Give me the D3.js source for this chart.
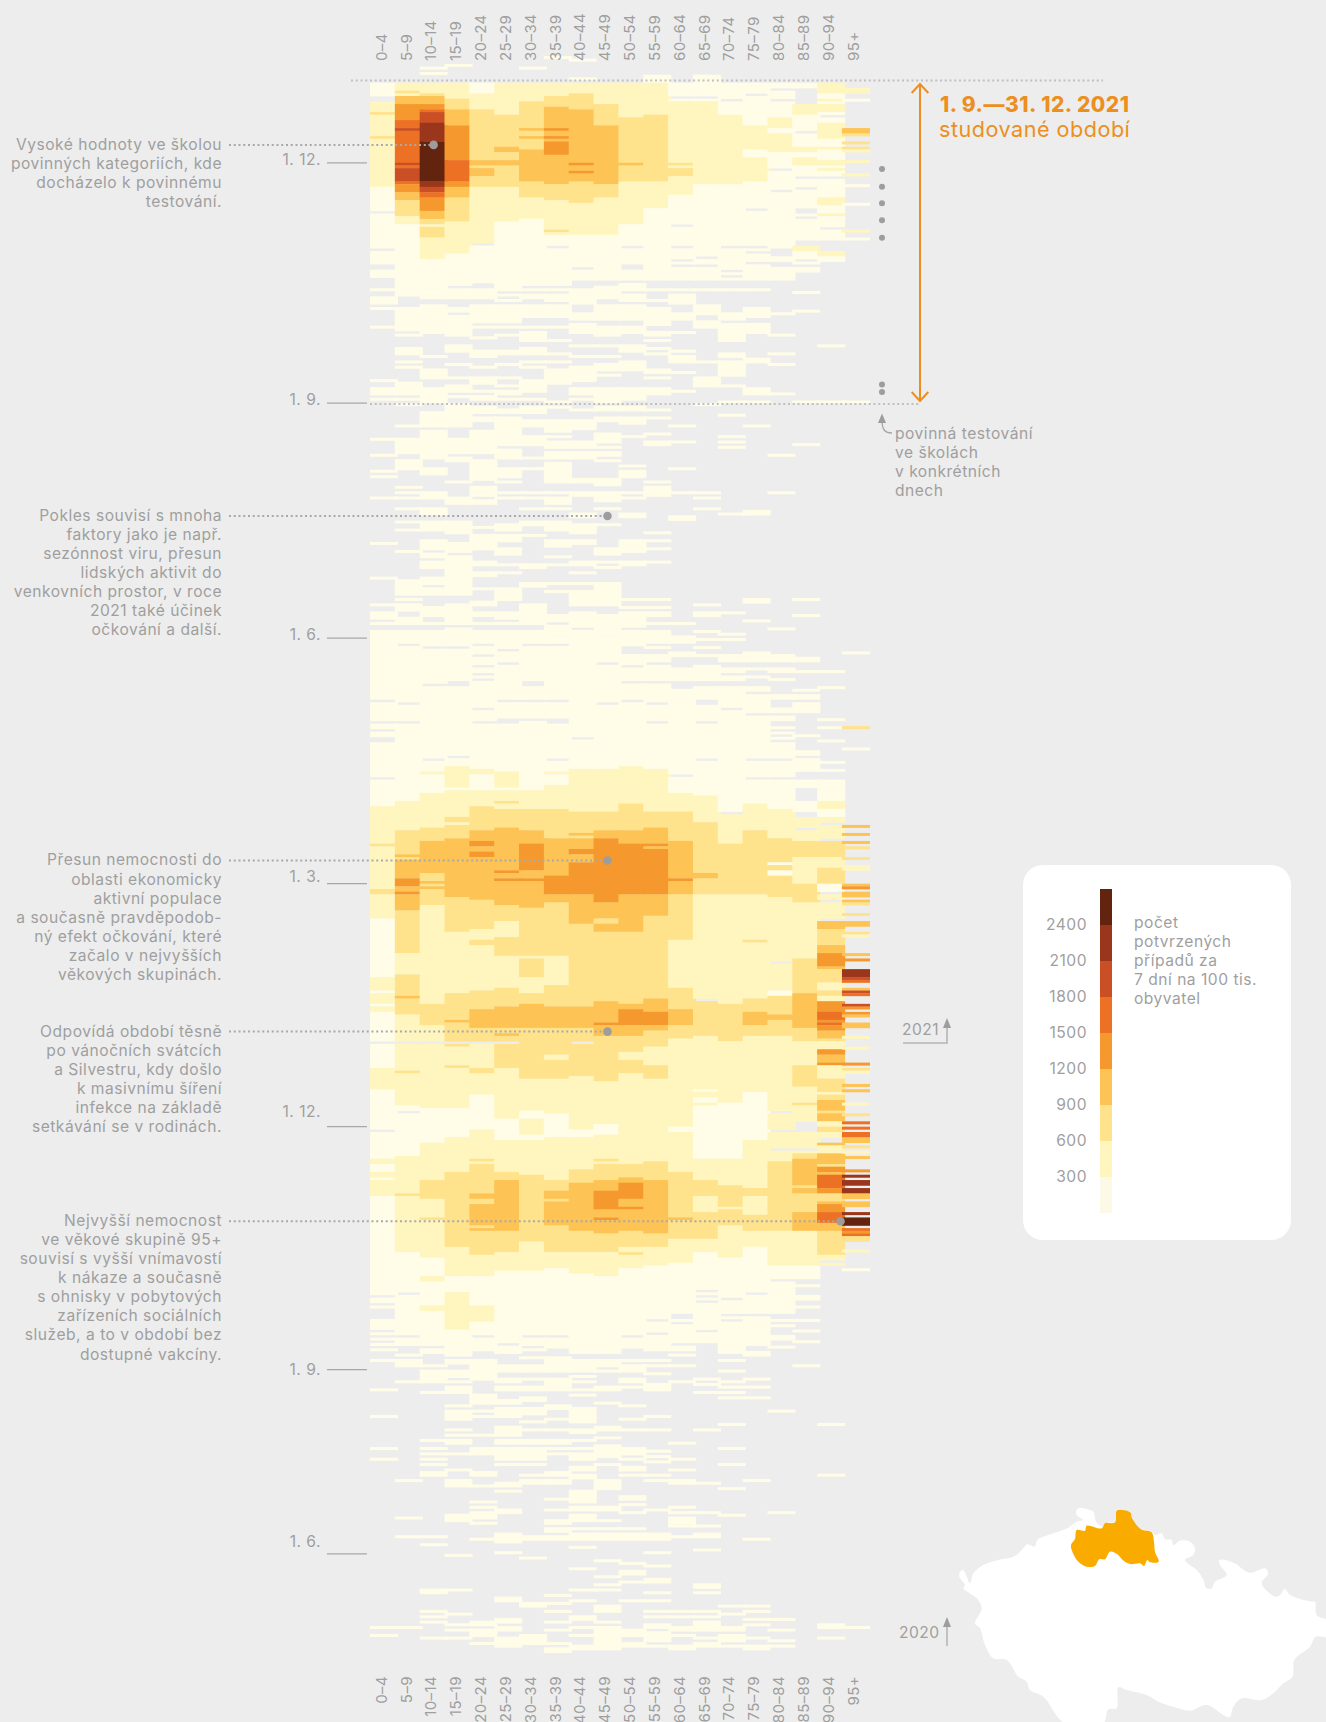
<!DOCTYPE html>
<html>
<head>
<meta charset="utf-8">
<script src="https://cdn.jsdelivr.net/npm/d3@7"></script>
<style>
html, body { margin: 0; background: #ededed; }
svg { display: block; }
text { font-family: Inter, "Noto Sans", sans-serif; fill: #9f9f9f; font-size: 15.6px; letter-spacing: 0.5px; }
</style>
</head>
<body>
<script>
const ages = ["0–4","5–9","10–14","15–19","20–24","25–29","30–34","35–39","40–44","45–49","50–54","55–59","60–64","65–69","70–74","75–79","80–84","85–89","90–94","95+"];
const legendTicks = [300, 600, 900, 1200, 1500, 1800, 2100, 2400];
const binColors = ["#fffce8","#fff6bf","#ffe28c","#fdc354","#f5992f","#ec7124","#cb4f24","#99361c","#62240f"];

// one array per age group, runs of [first row, last row, bin], row 0 is the newest day on top
const age0 = [[7,11,1],[14,17,2],[18,18,3],[19,26,2],[27,27,3],[28,45,2],[46,54,1],[56,68,1],[70,74,1],[77,79,1],
[84,84,1],[87,89,1],[91,91,1],[98,98,1],[118,118,1],[121,123,1],[125,125,1],[140,140,1],[146,146,1],[152,152,1],[154,154,1],[162,162,1],
[179,179,1],[192,192,1],[202,202,1],[205,207,1],[209,209,1],[212,217,1],[218,237,1],[239,245,1],[247,248,1],[250,251,1],[254,266,1],[268,277,1],
[278,291,2],[292,292,3],[293,308,2],[309,310,3],[311,319,2],[320,341,1],[342,346,2],[347,347,1],[348,351,2],[352,352,1],[353,354,2],[355,365,1],[367,375,1],
[376,383,2],[384,398,1],[400,409,1],[410,411,2],[412,414,1],[415,416,2],[417,417,1],[418,423,2],[424,460,1],[462,463,1],[465,465,1],[470,473,1],[475,475,1],[477,477,1],
[479,479,1],[481,481,1],[485,485,1],[496,496,1],[506,506,1],[518,518,1],[522,522,1],[585,585,1],[588,588,1]];
const age5 = [[7,9,2],[10,10,3],[11,11,2],[12,14,4],[15,20,5],[21,23,6],[24,24,7],[25,36,6],[37,37,7],[38,38,6],[39,43,7],[44,44,6],[45,47,5],[48,50,4],[51,56,3],[57,59,2],[60,82,1],
[83,86,1],[91,96,1],[97,99,1],[101,101,1],[106,108,1],[111,111,1],[113,113,1],[119,123,1],[125,125,1],[127,127,1],[135,135,1],[140,145,1],[148,151,1],[158,158,1],[160,160,1],[162,162,1],[166,166,1],
[171,171,1],[174,174,1],[182,182,1],[193,198,1],[200,200,1],[202,204,1],[207,209,1],[212,216,1],[218,238,1],[240,245,1],[247,275,1],
[276,286,2],[287,295,3],[296,296,4],[297,297,3],[298,304,4],[305,307,5],[308,309,4],[310,310,5],[311,316,4],[317,332,3],[333,340,2],[341,348,3],[349,349,4],[350,355,3],[356,365,2],[367,376,2],
[377,377,3],[378,389,2],[390,391,1],[393,408,1],[409,422,2],[423,423,3],[424,444,2],[445,459,1],[461,475,1],[477,479,1],
[483,483,1],[485,487,1],[493,493,1],[530,530,1],[544,544,1],[551,551,1],[585,585,1]];
const age10 = [[1,1,1],[3,3,1],[7,10,2],[11,11,3],[12,14,4],[15,16,5],[17,17,6],[18,21,7],[22,28,8],[29,43,9],[44,45,8],[46,47,7],[48,49,6],[50,54,5],[55,57,4],[58,59,3],[60,60,2],[61,64,3],[65,72,2],[73,83,1],
[84,87,1],[90,96,1],[97,100,1],[109,109,1],[114,117,1],[121,126,1],[130,135,1],[137,147,1],[151,153,1],[160,162,1],[166,168,1],
[171,174,1],[178,181,1],[183,184,1],[186,188,1],[192,194,1],[196,198,1],[203,206,1],[209,209,1],[212,217,1],[219,231,1],[233,259,1],[261,264,1],[265,265,2],[266,272,1],
[273,285,2],[286,290,3],[291,302,4],[303,305,3],[306,306,4],[307,307,3],[308,308,4],[309,314,3],[315,351,2],[352,359,3],[360,365,2],[367,390,2],
[391,403,1],[404,417,2],[418,424,3],[425,431,2],[432,432,3],[433,446,2],[447,453,1],[454,455,2],[456,464,1],[465,466,2],[467,479,1],
[481,482,1],[487,487,1],[489,493,1],[497,497,1],[515,515,1],[518,518,1],[520,520,1],[522,522,1],[524,524,1],[527,528,1],[551,551,1],[554,554,1],[571,572,1],[579,579,1],[581,581,1],[583,583,1],[589,589,1]];
const age15 = [[0,0,1],[7,12,2],[13,16,3],[17,22,4],[23,35,5],[36,43,6],[44,45,5],[46,49,4],[50,58,3],[59,70,2],[71,82,1],
[84,87,1],[91,92,1],[94,101,1],[105,107,1],[112,112,1],[117,117,1],[120,122,1],[124,124,1],[127,135,1],[140,145,1],[147,148,1],[156,156,1],[162,164,1],
[171,175,1],[179,182,1],[184,198,1],[202,209,1],[211,217,1],[219,230,1],[233,258,1],[260,262,1],[263,270,2],[271,271,1],
[272,281,2],[282,283,3],[284,284,2],[285,289,3],[290,311,4],[312,324,3],[325,347,2],[348,357,3],[358,358,4],[359,365,3],[367,367,3],[368,374,2],
[375,375,3],[376,390,2],[391,401,1],[402,414,2],[415,442,3],[443,453,2],[454,459,1],[460,473,2],[474,482,1],
[483,483,1],[485,486,1],[489,491,1],[493,493,1],[495,497,1],[502,502,1],[504,507,1],[511,511,1],[513,513,1],[515,516,1],[520,520,1],[526,526,1],[530,532,1],[543,545,1],[558,558,1],[571,571,1],[580,580,1],[584,584,1],[586,586,1],[589,589,1]];
const age20 = [[7,10,1],[11,16,2],[17,35,3],[36,37,4],[38,38,3],[39,41,4],[42,45,3],[46,66,2],[68,81,1],
[84,87,1],[90,96,1],[98,98,1],[102,102,1],[107,109,1],[113,113,1],[117,119,1],[122,122,1],[124,125,1],[128,130,1],[132,133,1],[137,145,1],[148,155,1],[158,159,1],[160,161,1],[163,164,1],
[173,173,1],[176,181,1],[186,187,1],[190,191,1],[196,196,1],[201,202,1],[205,206,1],[209,209,1],[212,216,1],[218,220,1],[222,224,1],[226,227,1],[229,229,1],[231,240,1],[242,245,1],[247,263,1],[264,265,2],[266,271,1],
[272,277,2],[278,286,3],[287,290,4],[291,292,5],[293,294,4],[295,296,5],[297,312,4],[313,323,3],[324,327,2],[328,329,3],[330,346,2],[347,353,3],[354,360,4],[361,365,3],[367,375,2],
[376,377,3],[378,385,2],[386,398,1],[399,409,2],[410,410,3],[411,411,2],[412,422,3],[423,424,4],[425,426,3],[427,434,4],[435,435,3],[436,436,4],[437,445,3],[446,453,2],[454,464,1],[465,470,2],[471,475,1],[477,481,1],
[485,492,1],[498,501,1],[504,504,1],[506,506,1],[513,513,1],[518,520,1],[527,528,1],[532,532,1],[538,538,1],[540,540,1],[542,544,1],[546,546,1],[552,552,1],[583,584,1],[586,588,1],[591,591,1]];
const age25 = [[7,18,2],[19,30,3],[31,32,4],[33,35,3],[36,37,4],[38,45,3],[46,58,2],[59,84,1],
[86,86,1],[88,88,1],[90,96,1],[98,98,1],[101,101,1],[107,108,1],[112,112,1],[117,117,1],[120,120,1],[122,123,1],[125,125,1],[129,130,1],[132,142,1],[144,147,1],[151,154,1],[156,156,1],[160,160,1],[162,162,1],
[172,174,1],[176,178,1],[181,183,1],[187,187,1],[190,190,1],[196,200,1],[205,207,1],[209,209,1],[212,218,1],[220,223,1],[225,237,1],[239,244,1],[247,264,1],[265,270,2],[271,271,1],
[272,275,2],[276,276,3],[277,278,2],[279,285,3],[286,301,4],[302,302,5],[303,304,4],[305,305,5],[306,314,4],[315,320,3],[321,326,2],[327,333,3],[334,345,2],[346,352,3],[353,360,4],[361,362,3],[363,363,4],[364,365,3],[367,374,3],
[375,375,3],[376,394,2],[395,402,1],[403,414,2],[415,417,3],[418,436,4],[437,444,3],[445,451,2],[452,478,1],
[480,482,1],[487,489,1],[492,493,1],[495,496,1],[500,501,1],[503,506,1],[510,513,1],[515,516,1],[518,522,1],[524,524,1],[531,532,1],[534,534,1],[541,542,1],[550,553,1],[557,557,1],[574,575,1],[582,583,1],[585,586,1],[589,592,1]];
const age30 = [[1,1,1],[7,13,2],[14,23,3],[24,24,4],[25,26,3],[27,27,4],[28,31,3],[32,43,4],[44,49,3],[50,57,2],[58,82,1],
[84,84,1],[86,87,1],[90,94,1],[98,98,1],[100,103,1],[106,108,1],[111,111,1],[113,113,1],[118,122,1],[125,125,1],[128,130,1],[133,135,1],[139,142,1],[147,147,1],[151,151,1],[160,160,1],[162,162,1],[166,166,1],
[171,172,1],[176,176,1],[187,188,1],[194,195,1],[202,209,1],[212,216,1],[218,230,1],[233,237,1],[239,244,1],[246,271,1],
[272,278,2],[279,286,3],[287,291,4],[292,301,5],[302,304,4],[305,305,5],[306,315,4],[316,333,3],[334,334,2],[335,341,3],[342,347,2],[348,351,3],[352,360,4],[361,372,3],
[373,379,3],[380,391,2],[392,394,1],[395,400,2],[401,402,1],[403,415,2],[416,440,3],[441,451,2],[452,475,1],[477,479,1],
[481,481,1],[484,484,1],[487,489,1],[492,492,1],[495,496,1],[499,500,1],[503,505,1],[508,508,1],[511,511,1],[515,516,1],[518,522,1],[524,524,1],[528,528,1],[530,531,1],[551,552,1],[559,559,1],[576,577,1],[588,591,1]];
const age35 = [[-3,-3,1],[7,11,2],[12,15,3],[16,23,4],[24,24,5],[25,26,4],[27,27,5],[28,28,4],[29,33,5],[34,44,4],[45,50,3],[51,61,2],[62,62,3],[63,63,2],[64,67,1],[69,82,1],
[84,84,1],[86,88,1],[90,94,1],[98,98,1],[103,103,1],[108,108,1],[111,111,1],[114,119,1],[126,126,1],[128,128,1],[133,137,1],[139,139,1],[141,143,1],[145,147,1],[149,156,1],[160,160,1],[162,164,1],[166,166,1],
[171,174,1],[178,180,1],[184,184,1],[187,187,1],[194,194,1],[197,197,1],[206,208,1],[210,213,1],[214,216,1],[218,237,1],[239,244,1],[247,259,1],[261,264,1],[265,265,2],[266,269,1],[270,278,2],
[279,289,3],[290,303,4],[304,310,5],[311,313,4],[314,333,3],[334,344,2],[345,352,3],[353,360,4],[361,370,3],[371,372,2],
[373,379,3],[380,392,2],[393,401,1],[402,417,2],[418,421,3],[422,424,4],[425,425,3],[426,434,4],[435,444,3],[445,450,2],[451,475,1],[477,480,1],
[484,489,1],[492,495,1],[496,496,1],[502,503,1],[507,507,1],[511,511,1],[515,516,1],[518,518,1],[520,520,1],[527,528,1],[530,531,1],[537,537,1],[541,541,1],[545,546,1],[548,549,1],[551,552,1],[573,573,1],[576,576,1],[579,579,1],[583,583,1],[586,586,1],[591,591,1],[593,594,1]];
const age40 = [[-2,-2,1],[5,5,1],[7,10,2],[11,16,3],[17,36,4],[37,37,5],[38,39,4],[40,40,5],[41,43,4],[44,51,3],[52,63,2],[64,75,1],[77,80,1],
[84,89,1],[93,95,1],[97,100,1],[105,105,1],[109,109,1],[113,117,1],[118,118,1],[121,123,1],[125,125,1],[129,129,1],[133,136,1],[141,143,1],[145,147,1],[155,156,1],[160,161,1],[168,169,1],
[172,175,1],[178,179,1],[186,187,1],[190,190,1],[194,194,1],[197,202,1],[205,208,1],[209,210,1],[212,251,1],[253,263,1],[264,271,2],
[272,279,2],[280,287,3],[288,288,4],[289,289,3],[290,293,4],[294,295,5],[296,298,4],[299,310,5],[311,321,4],[322,352,3],[353,360,4],[361,365,3],[367,372,3],
[373,378,3],[379,398,2],[399,401,1],[402,413,2],[414,418,3],[419,436,4],[437,444,3],[445,452,2],[453,482,1],
[485,489,1],[491,491,1],[493,493,1],[496,496,1],[498,498,1],[503,508,1],[511,512,1],[515,515,1],[518,518,1],[520,522,1],[525,526,1],[528,529,1],[534,538,1],[540,541,1],[543,545,1],[548,548,1],[550,552,1],[555,555,1],[563,563,1],[571,571,1],[575,575,1],[581,582,1],[585,585,1],[588,588,1],[592,593,1]];
const age45 = [[7,14,2],[15,22,3],[23,44,4],[45,49,3],[50,63,2],[64,80,1],
[83,87,1],[90,92,1],[93,95,1],[98,100,1],[101,101,1],[105,105,1],[109,109,1],[112,114,1],[116,116,1],[121,126,1],[128,129,1],[132,133,1],[138,141,1],[143,143,1],[145,146,1],[148,148,1],[155,157,1],[160,163,1],[166,166,1],
[172,172,1],[181,183,1],[186,186,1],[188,188,1],[194,196,1],[197,202,1],[206,208,1],[209,213,1],[214,223,1],[225,238,1],[240,263,1],[264,271,2],
[272,279,2],[280,286,3],[287,289,4],[290,313,5],[314,319,4],[320,321,3],[322,324,4],[325,350,3],[351,358,4],[359,359,5],[360,363,4],[364,372,3],
[373,380,3],[381,396,2],[397,400,1],[401,409,2],[410,410,3],[411,411,2],[412,417,3],[418,421,4],[422,428,5],[429,431,4],[432,432,5],[433,437,4],[438,444,3],[445,453,2],[454,482,1],
[485,487,1],[489,489,1],[495,496,1],[501,501,1],[510,511,1],[514,514,1],[517,521,1],[524,524,1],[530,533,1],[540,541,1],[545,545,1],[548,548,1],[550,552,1],[560,560,1],[566,566,1],[569,569,1],[571,571,1],[577,579,1],[583,583,1],[585,593,1]];
const age50 = [[7,19,2],[20,36,3],[37,37,4],[38,43,3],[44,59,2],[60,67,1],[69,74,1],[77,80,1],
[82,84,1],[86,88,1],[90,95,1],[98,100,1],[105,107,1],[111,114,1],[121,125,1],[128,129,1],[132,134,1],[139,139,1],[150,150,1],[152,154,1],[160,160,1],[162,162,1],[168,169,1],
[178,180,1],[181,182,1],[186,187,1],[200,200,1],[203,203,1],[205,210,1],[212,217,1],[221,224,1],[226,230,1],[232,237,1],[239,262,1],[263,271,2],
[272,276,2],[277,286,3],[287,291,4],[292,310,5],[311,324,4],[325,351,3],[352,353,4],[354,359,5],[360,363,4],[364,369,3],[370,372,2],
[373,377,3],[378,411,2],[412,416,3],[417,418,4],[419,424,5],[425,427,4],[428,428,5],[429,436,4],[437,442,3],[443,444,2],[445,445,3],[446,450,2],[451,475,1],[477,480,1],
[485,485,1],[487,489,1],[492,493,1],[495,495,1],[502,502,1],[507,507,1],[511,511,1],[518,520,1],[522,522,1],[525,526,1],[528,528,1],[536,537,1],[539,539,1],[542,542,1],[548,548,1],[550,552,1],[561,561,1],[564,565,1],[568,568,1],[575,575,1],[586,588,1],[591,592,1]];
const age55 = [[4,6,1],[7,18,2],[19,43,3],[44,53,2],[54,80,1],
[84,84,1],[88,88,1],[91,97,1],[100,101,1],[103,103,1],[106,106,1],[108,108,1],[114,115,1],[117,117,1],[121,123,1],[129,129,1],[132,132,1],[138,138,1],[141,142,1],[156,156,1],[158,161,1],
[175,175,1],[178,178,1],[181,181,1],[186,186,1],[200,200,1],[203,203,1],[205,206,1],[209,209,1],[212,216,1],[218,218,1],[221,223,1],[225,230,1],[232,238,1],[240,245,1],[247,263,1],[264,272,2],
[273,279,2],[280,285,3],[286,291,4],[292,292,5],[293,293,4],[294,310,5],[311,318,4],[319,349,3],[350,354,4],[355,359,5],[360,361,4],[362,367,3],[368,374,2],
[375,379,3],[380,410,2],[411,417,3],[418,437,4],[438,442,3],[443,449,2],[450,469,1],[471,474,1],[476,481,1],
[485,485,1],[487,487,1],[490,490,1],[494,496,1],[506,506,1],[511,511,1],[519,519,1],[521,521,1],[523,523,1],[528,528,1],[530,530,1],[541,541,1],[550,552,1],[557,557,1],[562,562,1],[567,568,1],[572,572,1],[575,575,1],[579,579,1],[581,581,1],[584,585,1],[587,590,1],[592,592,1]];
const age60 = [[7,11,1],[13,13,1],[14,36,2],[37,37,3],[38,38,2],[39,41,3],[42,48,2],[49,59,1],[61,67,1],[69,72,1],[74,74,1],[76,80,1],
[84,84,1],[86,89,1],[93,95,1],[100,100,1],[107,107,1],[109,111,1],[115,115,1],[122,122,1],[135,135,1],[141,141,1],[151,151,1],[160,160,1],[169,169,1],[170,170,1],
[209,209,1],[214,216,1],[220,221,1],[226,230,1],[234,265,1],[267,272,1],
[273,279,2],[280,290,3],[291,304,4],[305,305,5],[306,310,4],[311,327,3],[328,345,2],[346,353,3],[354,359,4],[360,364,3],[365,372,2],
[373,397,2],[398,399,1],[400,414,2],[415,431,3],[432,432,4],[433,439,3],[440,448,2],[449,467,1],[470,470,1],[472,478,1],
[480,481,1],[483,483,1],[487,487,1],[493,493,1],[516,516,1],[522,522,1],[526,526,1],[530,531,1],[540,540,1],[542,542,1],[544,546,1],[547,547,1],[551,551,1],[579,579,1],[581,581,1],[585,586,1],[588,588,1],[592,593,1]];
const age65 = [[4,6,1],[7,11,1],[13,13,1],[14,44,2],[45,71,1],[73,74,1],[76,80,1],
[84,84,1],[90,93,1],[96,98,1],[111,111,1],[117,120,1],[127,127,1],[160,160,1],[162,162,1],[166,166,1],
[202,202,1],[205,206,1],[212,212,1],[215,215,1],[218,218,1],[221,221,1],[225,230,1],[233,237,1],[240,245,1],[247,259,1],[261,272,1],
[273,273,1],[274,283,2],[284,302,3],[303,304,4],[305,310,3],[311,349,2],[351,363,3],[364,383,2],
[384,384,1],[385,386,2],[387,388,1],[389,389,2],[390,409,1],[410,417,2],[418,423,3],[424,429,2],[430,439,3],[440,444,2],[445,458,1],[460,460,1],[462,462,1],[464,473,1],[475,478,1],
[492,492,1],[494,494,1],[497,497,1],[511,511,1],[531,531,1],[542,542,1],[547,547,1],[550,551,1],[556,556,1],[569,570,1],[572,572,1],[579,579,1],[581,581,1],[583,586,1],[589,589,1],[591,592,1]];
const age70 = [[7,12,1],[14,18,1],[19,44,2],[45,67,1],[69,76,1],[78,78,1],[80,80,1],
[84,84,1],[93,95,1],[97,103,1],[108,109,1],[111,116,1],[120,120,1],[126,126,1],[131,131,1],[139,139,1],[141,141,1],[143,143,1],[168,168,1],
[205,205,1],[213,213,1],[215,215,1],[221,223,1],[226,227,1],[229,230,1],[233,240,1],[242,279,1],[281,291,2],[292,310,3],[311,351,2],[352,365,3],[366,388,2],
[389,409,1],[410,419,2],[420,427,3],[428,428,2],[429,434,3],[435,446,2],[447,461,1],[463,467,1],[469,469,1],[471,482,1],
[485,485,1],[489,489,1],[493,493,1],[495,495,1],[497,497,1],[499,499,1],[509,509,1],[518,518,1],[524,524,1],[533,533,1],[543,543,1],[577,577,1],[580,580,1],[585,586,1],[588,590,1],[592,592,1]];
const age75 = [[7,10,1],[12,22,1],[23,31,2],[32,34,1],[35,43,2],[44,53,1],[55,67,1],[69,69,1],[71,73,1],[75,80,1],
[84,84,1],[91,94,1],[97,100,1],[110,111,1],[121,123,1],[126,126,1],[135,135,1],
[167,168,1],[200,201,1],[208,208,1],[220,223,1],[226,226,1],[229,229,1],[233,234,1],[236,242,1],[244,259,1],[261,266,1],[268,272,1],
[273,276,1],[277,286,2],[287,310,3],[311,327,2],[328,328,3],[329,349,2],[350,354,3],[355,359,4],[360,363,3],[364,384,2],
[385,402,1],[403,420,2],[421,423,3],[424,430,2],[431,436,3],[437,442,2],[443,459,1],[461,467,1],[469,479,1],
[482,483,1],[492,492,1],[495,495,1],[499,499,1],[530,530,1],[552,552,1],[577,577,1],[579,579,1],[582,582,1],[584,584,1],[589,589,1],[592,593,1]];
const age80 = [[7,8,1],[10,12,1],[14,19,1],[20,23,2],[24,25,1],[26,32,2],[33,38,1],[40,46,1],[48,68,1],[72,73,1],[76,80,1],
[93,93,1],[101,101,1],[108,108,1],[112,112,1],[123,123,1],[146,146,1],[160,160,1],
[211,211,1],[221,223,1],[226,227,1],[230,230,1],[236,237,1],[241,242,1],[244,245,1],[248,248,1],[250,250,1],[252,252,1],[254,259,1],[261,266,1],[268,272,1],
[273,278,1],[279,289,2],[290,298,3],[299,299,1],[300,301,3],[302,303,1],[304,311,3],[312,335,2],[337,346,2],[347,348,1],[349,355,3],[356,357,4],[358,363,3],[364,391,2],
[393,398,2],[400,405,2],[407,410,2],[411,436,3],[437,449,2],[450,454,1],[456,467,1],[470,470,1],[472,472,1],[476,477,1],[480,480,1],[504,504,1],[542,542,1],[582,582,1],[586,586,1],[590,590,1],[592,592,1]];
const age85 = [[7,8,1],[15,18,2],[19,24,1],[26,30,1],[31,32,2],[33,34,1],[35,37,2],[38,41,1],[43,45,1],[47,53,1],[56,56,1],[58,65,1],[68,69,2],[70,72,1],[74,74,1],[76,77,1],
[85,85,1],[92,92,1],[126,126,1],[142,142,1],
[200,200,1],[206,206,1],[222,223,1],[227,227,1],[234,234,1],[236,237,1],[239,241,1],[242,242,1],[251,251,1],[257,258,1],[260,264,1],[268,270,1],
[276,279,1],[282,285,2],[287,290,2],[291,296,3],[297,306,2],[307,313,3],[314,334,2],[335,347,3],[348,360,4],[361,365,3],[366,373,2],
[374,374,2],[375,382,3],[383,388,2],[389,389,3],[390,395,2],[400,405,2],[407,407,2],[408,409,3],[410,419,4],[420,420,3],[421,422,4],[423,429,3],[430,436,4],[437,449,2],[450,454,1],[457,457,1],[461,462,1],[465,465,1],[470,470,1],[474,474,1],[478,478,1],[487,487,1]];
const age90 = [[7,10,2],[11,12,1],[13,13,2],[14,14,1],[15,17,2],[18,18,1],[20,21,1],[22,27,2],[28,30,1],[31,31,2],[32,35,1],[36,37,2],[38,38,1],[39,39,2],[40,41,1],[43,45,1],[46,49,1],[50,52,2],[53,55,1],[56,56,2],[57,58,1],[59,60,1],[62,65,1],[70,71,2],[72,73,1],
[105,105,1],[126,126,1],[227,227,1],[233,233,1],[245,245,1],[248,248,1],[253,253,1],[261,261,1],[264,264,1],[268,271,1],
[272,275,1],[276,278,2],[279,281,1],[282,283,2],[285,289,2],[291,296,3],[297,300,2],[301,306,3],[307,309,1],[311,312,2],[314,319,2],[321,323,4],[324,329,3],[330,332,4],[333,337,5],[338,338,4],[339,343,3],[344,346,2],[347,348,3],[349,350,2],[351,354,5],[355,357,6],[358,358,5],[359,359,6],[360,361,5],[362,364,4],[365,365,3],[366,368,2],[369,370,5],[371,373,4],
[374,374,5],[375,379,2],[380,384,3],[385,385,2],[386,387,3],[388,391,4],[392,392,3],[393,395,4],[396,397,2],[398,399,3],[400,401,2],[404,404,4],[405,407,2],[408,411,4],[412,412,3],[413,414,5],[415,415,4],[416,420,6],[421,422,5],[423,425,3],[426,426,4],[427,429,5],[430,433,6],[434,436,4],[437,445,3],[446,447,2],[449,449,2],
[509,509,1],[528,528,1],[584,585,1],[589,589,1]];
const age95 = [[9,10,2],[13,13,1],[24,25,4],[26,26,3],[29,29,3],[31,31,3],[32,32,2],[36,36,2],[41,41,2],[45,45,1],[52,52,1],[62,62,2],[65,65,1],
[126,126,1],[220,220,1],[248,248,3],[256,256,1],
[285,285,4],[288,288,4],[291,291,4],[293,293,3],[297,297,3],[300,301,2],[307,307,4],[308,308,5],[310,311,4],[313,313,4],[314,314,3],[318,318,3],[321,322,4],[325,325,3],[326,326,2],[333,333,4],[335,335,5],[339,341,8],[342,342,7],[343,343,6],[346,346,4],[347,347,7],[348,348,6],[352,352,7],[353,353,5],[355,355,5],[356,356,4],[359,360,4],[364,364,2],[368,368,2],
[374,374,5],[376,376,3],[377,377,2],[382,382,4],[384,384,4],[389,389,2],[393,393,3],[396,396,6],[398,398,6],[400,401,6],[402,403,4],[405,405,3],[407,407,2],[409,409,4],[414,414,5],[416,416,8],[418,419,8],[421,422,8],[423,424,4],[426,427,4],[430,430,8],[432,434,9],[436,436,6],[437,437,5],[438,438,6],[439,440,3],[444,444,2],[451,451,1],[585,585,1]];
const ageColumns = [age0,age5,age10,age15,age20,age25,age30,age35,age40,age45,age50,age55,age60,age65,age70,age75,age80,age85,age90,age95];

const tickRows = [37, 127, 215, 307, 398, 489, 558];
const tickLabelRows = [35.6, 125.8, 213.5, 304.5, 392.5, 488.8, 553.2];
const tickLabels = ["1. 12.", "1. 9.", "1. 6.", "1. 3.", "1. 12.", "1. 9.", "1. 6."];
const testingRows = [39.3, 46, 52.2, 58.5, 65.1, 120, 122.8];

const notes = [
    {row: 30.3, col: 2, end: 0.5, lines: ["Vysoké hodnoty ve školou","povinných kategoriích, kde","docházelo k povinnému","testování."]},
    {row: 169.3, col: 9, end: 0.5, lines: ["Pokles souvisí s mnoha","faktory jako je např.","sezónnost viru, přesun","lidských aktivit do","venkovních prostor, v roce","2021 také účinek","očkování a další."]},
    {row: 298.3, col: 9, end: 0.5, lines: ["Přesun nemocnosti do","oblasti ekonomicky","aktivní populace","a současně pravděpodob-","ný efekt očkování, které","začalo v nejvyšších","věkových skupinách."]},
    {row: 362.4, col: 9, end: 0.5, lines: ["Odpovídá období těsně","po vánočních svátcích","a Silvestru, kdy došlo","k masivnímu šíření","infekce na základě","setkávání se v rodinách."]},
    {row: 433.4, col: 19, end: -0.06, lines: ["Nejvyšší nemocnost","ve věkové skupině 95+","souvisí s vyšší vnímavostí","k nákaze a současně","s ohnisky v pobytových","zařízeních sociálních","služeb, a to v období bez","dostupné vakcíny."]}
];
const legendNote = ["počet","potvrzených","případů za","7 dní na 100 tis.","obyvatel"];
const testingNote = ["povinná testování","ve školách","v konkrétních","dnech"];

// outline, in 3x crop units
const mapOutline = [[60,275],[70,270],[90,310],[100,280],[130,255],[175,240],[225,228],[250,205],[262,193],[284,200],[292,180],[340,160],[385,143],[410,125],[430,120],[410,105],[412,86],[460,95],[465,115],[472,130],[490,140],[500,128],[525,125],[530,90],[570,97],[575,110],[600,145],[635,155],[645,165],[665,160],[675,178],[695,180],[700,195],[720,182],[750,185],[765,205],[760,225],[735,240],[775,275],[790,300],[800,325],[815,325],[825,305],[860,285],[840,255],[838,240],[880,248],[930,278],[975,265],[985,280],[965,310],[1005,350],[1020,345],[1035,327],[1050,345],[1115,365],[1125,365],[1130,405],[1165,423],[1165,470],[1127,470],[1110,500],[1063,540],[1058,590],[1030,610],[1000,640],[965,660],[905,655],[880,680],[868,712],[800,675],[750,692],[700,680],[655,665],[620,645],[560,630],[535,622],[530,685],[505,688],[490,730],[375,730],[310,650],[270,630],[260,605],[235,590],[200,540],[160,535],[135,495],[120,445],[105,430],[125,385],[110,355],[70,325],[75,315],[58,290]];
const regionOutline = [[410,150],[435,152],[440,137],[485,145],[495,130],[525,127],[530,92],[548,90],[572,98],[575,112],[602,147],[635,157],[642,185],[645,215],[656,245],[630,247],[622,240],[612,258],[600,250],[570,252],[548,240],[535,225],[510,215],[495,238],[478,238],[465,258],[440,260],[415,245],[400,222],[393,195],[405,177]];

const width = 1326, height = 1722;
const svg = d3.select("body").append("svg").attr("width", width).attr("height", height);

const x = d3.scaleBand().domain(ages).range([370, 866.8]);
const y = d3.scaleLinear().domain([0, 595]).range([64, 64 + 595 * 2.67]);
const color = d3.scaleOrdinal().domain(d3.range(1, 10)).range(binColors);
const barWidth = x.bandwidth() + 3.2;

// map goes under everything
const mapG = svg.append("g").attr("transform", "translate(940,1480) scale(0.3333)");
const outline = d3.line().curve(d3.curveCatmullRomClosed.alpha(0.5));
mapG.append("path").attr("d", outline(mapOutline)).attr("fill", "#fff");
mapG.append("path").attr("d", outline(regionOutline)).attr("fill", "#faab00");

//heatmap columns, left to right so the next column covers the overlap
const heat = svg.append("g").attr("class", "heat");
ageColumns.forEach((runs, i) => {
    heat.append("g").selectAll("rect")
        .data(runs)
        .join("rect")
        .attr("x", x(ages[i]))
        .attr("y", d => y(d[0]))
        .attr("width", barWidth)
        .attr("height", d => y(d[1] + 1) - y(d[0]) + 0.33)
        .attr("fill", d => color(d[2]));
});

// age labels, top and bottom
const topAxis = svg.append("g").attr("transform", "translate(-1,61)").call(d3.axisTop(x).tickSize(0).tickPadding(0));
const bottomAxis = svg.append("g").attr("transform", "translate(-1,1676)").call(d3.axisTop(x).tickSize(0).tickPadding(0));
[topAxis, bottomAxis].forEach(a => a.select(".domain").remove());
topAxis.selectAll("text").attr("transform", "rotate(-90)").attr("text-anchor", "start").attr("x", 0).attr("y", 0).attr("dy", "0.35em").attr("font-size", null);
bottomAxis.selectAll("text").attr("transform", "rotate(-90)").attr("text-anchor", "end").attr("x", 0).attr("y", 0).attr("dy", "0.35em").attr("font-size", null);
svg.selectAll(".tick text").style("font-size", "15px").style("letter-spacing", "0.4px");

// date ticks on the left
svg.append("g").selectAll("line").data(tickRows).join("line")
    .attr("x1", 327).attr("x2", 367)
    .attr("y1", d => y(d)).attr("y2", d => y(d))
    .attr("stroke", "#a8a8a8").attr("stroke-width", 1.2);
svg.append("g").selectAll("text").data(tickLabels).join("text")
    .attr("x", 321).attr("text-anchor", "end")
    .attr("y", (d, i) => y(tickLabelRows[i]))
    .attr("dy", "0.35em")
    .text(d => d);

// dotted guide lines
const dotted = (x1, x2, yy) => svg.append("line")
    .attr("x1", x1).attr("x2", x2).attr("y1", yy).attr("y2", yy)
    .attr("stroke", "#a9a9a9").attr("stroke-width", 2).attr("stroke-dasharray", "2 2.75");
dotted(351, 1103, 80.5).attr("stroke", "#c0c0c0");
dotted(370, 920, 404).attr("stroke", "#c0c0c0");

// annotations
notes.forEach(n => {
    const px = x(ages[n.col]) + x.bandwidth() * n.end + (n.col === 19 ? 0 : 1.5);
    const py = y(n.row);
    dotted(229, px, py);
    svg.append("circle").attr("cx", px).attr("cy", py).attr("r", 4.3).attr("fill", "#9d9d9d");
    svg.append("g").selectAll("text").data(n.lines).join("text")
        .attr("x", 222).attr("text-anchor", "end")
        .attr("y", (d, i) => py + 5 + i * 19.05)
        .text(d => d);
});

// days with school testing
svg.append("g").selectAll("circle").data(testingRows).join("circle")
    .attr("cx", 882).attr("cy", d => y(d)).attr("r", 3).attr("fill", "#9d9d9d");
svg.append("path").attr("d", "M892,433 C885,433 882,430 882,420").attr("fill", "none").attr("stroke", "#a5a5a5").attr("stroke-width", 1.3);
svg.append("path").attr("d", "M882,413.5 L886,423 L878,423 Z").attr("fill", "#9d9d9d");
svg.append("g").selectAll("text").data(testingNote).join("text")
    .attr("x", 895).attr("y", (d, i) => 438.5 + i * 19.05).text(d => d);

// studied period arrow
const orange = "#ec8f1e";
svg.append("path")
    .attr("d", "M920,84V401M911.7,93L920,84L928.3,93M911.7,392L920,401L928.3,392")
    .attr("fill", "none").attr("stroke", orange).attr("stroke-width", 2);
svg.append("text").attr("x", 940).attr("y", 112).style("font-size", "21px").style("font-weight", 800).style("fill", orange).text("1. 9.—31. 12. 2021");
svg.append("text").attr("x", 939).attr("y", 137).style("font-size", "21.6px").style("fill", orange).text("studované období");

// year markers
const yearArrow = (label, textX, baseY, topY, bottomY, under) => {
    svg.append("text").attr("x", textX).attr("y", baseY).text(label);
    svg.append("path").attr("d", `${under ? "M903," + bottomY + "H947" : "M947," + bottomY}V${topY + 6}`).attr("fill", "none").attr("stroke", "#b5b5b5").attr("stroke-width", 1.6);
    svg.append("path").attr("d", `M947,${topY}L951,${topY + 10}L943,${topY + 10}Z`).attr("fill", "#9d9d9d");
};
yearArrow("2021", 902, 1035, 1018, 1043, true);
yearArrow("2020", 899, 1638, 1617, 1646, false);

// legend card
svg.append("rect").attr("x", 1023).attr("y", 865).attr("width", 268).attr("height", 375).attr("rx", 20).attr("fill", "#fff");
const legendY = d3.scaleLinear().domain([0, 2700]).range([1213, 889]);
const legendBins = d3.range(0, 2700, 300);
svg.append("g").selectAll("rect").data(legendBins).join("rect")
    .attr("x", 1100).attr("width", 12)
    .attr("y", d => legendY(d + 300))
    .attr("height", d => legendY(d) - legendY(d + 300))
    .attr("fill", (d, i) => i === 0 ? "#fdf9e7" : color(i + 1));
const legendAxis = svg.append("g").attr("transform", "translate(1100,-1)")
    .call(d3.axisLeft(legendY).tickValues(legendTicks).tickFormat(d3.format("d")).tickSize(0).tickPadding(13));
legendAxis.select(".domain").remove();
legendAxis.selectAll("text").style("font-size", "15.6px");
svg.append("g").selectAll("text").data(legendNote).join("text")
    .attr("x", 1134).attr("y", (d, i) => 928 + i * 19).text(d => d);
</script>
</body>
</html>
